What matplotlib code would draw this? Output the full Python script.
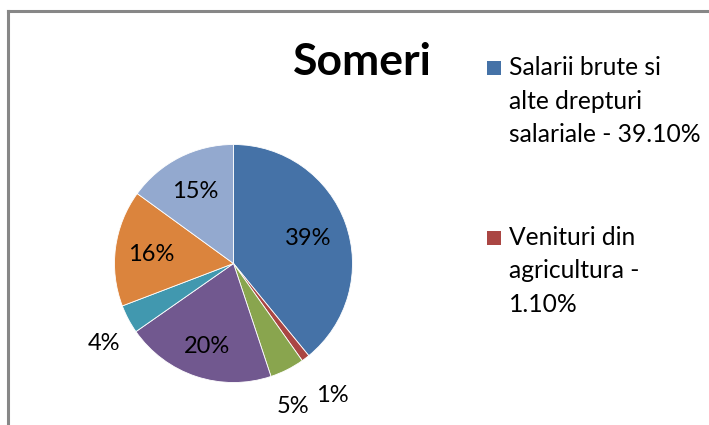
import numpy as np
import matplotlib
matplotlib.use("Agg")
import matplotlib.pyplot as plt
from matplotlib.patches import Rectangle
from matplotlib.lines import Line2D

plt.rcParams['font.family'] = ['Lato', 'DejaVu Sans']

title = "Someri"
values = [39.1, 1.1, 4.7, 20.4, 3.9, 15.8, 15.0]
pct_labels = ["39%", "1%", "5%", "20%", "4%", "16%", "15%"]
colors = ["#4572A7", "#AA4643", "#89A54E", "#71588F", "#4198AF", "#DB843D", "#93A9CF"]
legend_lines = [["Salarii brute si", "alte drepturi", "salariale - 39.10%"],
                ["Venituri din", "agricultura -", "1.10%"]]

# label layout (radius fraction, angular nudge in degrees)
label_dist = [0.67, 1.37, 1.29, 0.72, 1.27, 0.7, 0.7]
label_nudge = [0, 0, -4, 0, 3, 0, 0]

fig = plt.figure(figsize=(7.09, 4.25), dpi=100)
fig.patch.set_facecolor("white")

# border (top and left visible)
fig.add_artist(Line2D([8/709, 8/709], [0, 1 - 11/425], color="#878787", lw=2.2,
                      transform=fig.transFigure))
fig.add_artist(Line2D([8/709, 1], [1 - 11/425, 1 - 11/425], color="#878787", lw=2.2,
                      transform=fig.transFigure))

# pie axes: center (233,263), radius ~119 px
cx, cy, r = 233.5, 263.5, 119
ax = fig.add_axes([(cx - r) / 709, 1 - (cy + r) / 425, 2 * r / 709, 2 * r / 425])
wedges, _ = ax.pie(values, colors=colors, startangle=90, counterclock=False,
                   radius=1.0, wedgeprops=dict(linewidth=0.6, edgecolor="white"))
ax.set_xlim(-1, 1)
ax.set_ylim(-1, 1)
ax.set_aspect("auto")
ax.axis("off")

for w, lab, d, nd in zip(wedges, pct_labels, label_dist, label_nudge):
    ang = np.deg2rad((w.theta1 + w.theta2) / 2 + nd)
    ax.text(d * np.cos(ang), d * np.sin(ang), lab, ha="center", va="center_baseline",
            fontsize=17, color="black", clip_on=False)

fig.text(362 / 709, 1 - 62 / 425, title, ha="center", va="center",
         fontsize=32, fontweight="bold", color="black")

# legend (only first two entries visible)
marker_top = [61, 231]
first_baseline = [75, 245]
line_step = 33.5
for mt, fb, lines, col in zip(marker_top, first_baseline, legend_lines, colors[:2]):
    fig.add_artist(Rectangle((487 / 709, 1 - (mt + 14) / 425), 14 / 709, 14 / 425,
                             transform=fig.transFigure, facecolor=col, edgecolor="none"))
    for i, line in enumerate(lines):
        fig.text(509 / 709, 1 - (fb + i * line_step) / 425, line, ha="left",
                 va="baseline", fontsize=17.7, color="black")

fig.savefig("out.png", dpi=100, facecolor="white")
